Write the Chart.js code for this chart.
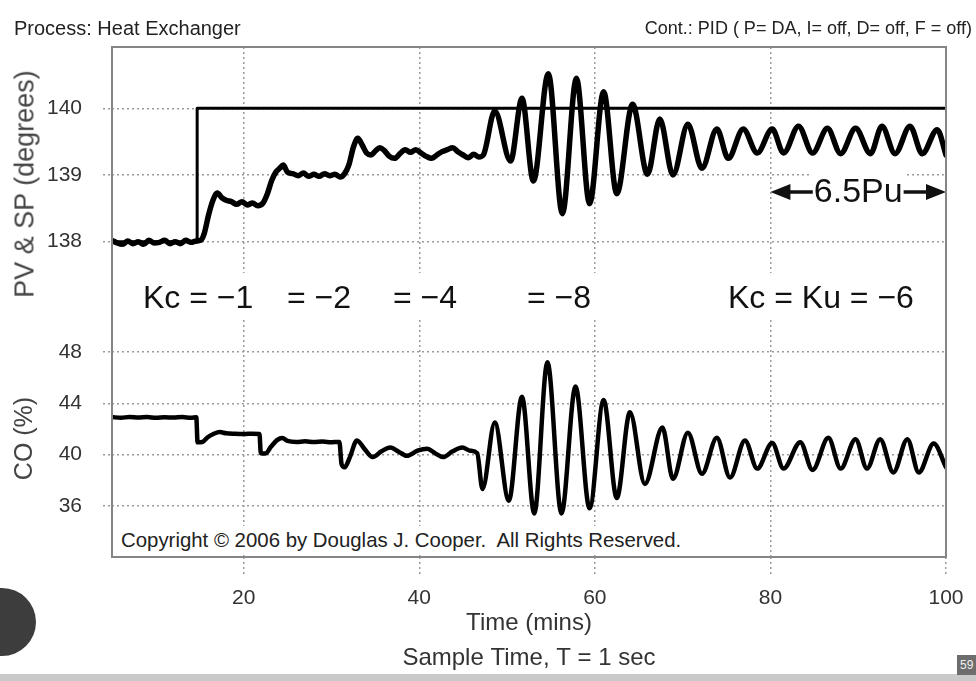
<!DOCTYPE html>
<html>
<head>
<meta charset="utf-8">
<script src="https://cdn.jsdelivr.net/npm/chart.js@4.4.0/dist/chart.umd.min.js"></script>
<style>
  html, body { margin: 0; padding: 0; background: #fff; }
  body { width: 976px; height: 681px; position: relative; overflow: hidden;
         font-family: "Liberation Sans", Arial, sans-serif; color: #222; }
  .abs { position: absolute; white-space: nowrap; }
  #topWrap { position: absolute; left: 0; top: 0; width: 976px; height: 310px; }
  #botWrap { position: absolute; left: 0; top: 270px; width: 976px; height: 411px; }
  #frame { position: absolute; left: 111px; top: 46px; width: 836px; height: 512px;
           box-sizing: border-box; border: 2px solid #858585; pointer-events: none; }
  .head { top: 17px; line-height: 22px; color: #222; }
  .kc { font-size: 32px; line-height: 36px; top: 279px; color: #111; }
  #pvTitle { left: 25px; top: 184px; font-size: 27px; color: #444;
             transform: translate(-50%, -50%) rotate(-90deg); }
  #copy { left: 116px; top: 526px; font-size: 20.4px; line-height: 28px; background: #fff;
          padding: 0 5px; color: #222; }
  #strip { left: 0; top: 674px; width: 976px; height: 7px; background: #c9c9c9; }
  #blob { left: -32px; top: 588px; width: 68px; height: 68px; border-radius: 50%; background: #3d3d3d; }
  #badge { left: 957px; top: 655px; width: 19px; height: 20px; background: #6d6d6d; color: #eee;
           font-size: 12px; line-height: 20px; padding-left: 3px; box-sizing: border-box; }
</style>
</head>
<body>
<div id="topWrap"><canvas id="pvChart"></canvas></div>
<div id="botWrap"><canvas id="coChart"></canvas></div>
<div id="frame"></div>

<div class="abs head" style="left:14px; font-size:20px">Process: Heat Exchanger</div>
<div class="abs head" style="right:4px; font-size:18px">Cont.: PID ( P= DA, I= off, D= off, F = off)</div>
<div class="abs" id="pvTitle">PV &amp; SP (degrees)</div>

<div class="abs kc" style="left:143px">Kc = −1</div>
<div class="abs kc" style="left:287px">= −2</div>
<div class="abs kc" style="left:393px">= −4</div>
<div class="abs kc" style="left:527px">= −8</div>
<div class="abs kc" style="left:728px">Kc = Ku = −6</div>

<div class="abs" id="copy">Copyright © 2006 by Douglas J. Cooper.&nbsp; All Rights Reserved.</div>
<div class="abs" id="strip"></div>
<div class="abs" id="blob"></div>
<div class="abs" id="badge">59</div>

<script>
// Axis ranges and ticks
const timeMin = 5
const timeMax = 100
const timeTicks = [20, 40, 60, 80, 100]
const pvMin = 137.53
const pvMax = 140.92
const pvTicks = [138, 139, 140]
const coMin = 32
const coMax = 50.5
const coTicks = [36, 40, 44, 48]

// Set point (degrees)
const spTime = [5, 14.7, 14.7, 100]
const spValue = [138, 138, 140, 140]

// Process variable (degrees)
const pvTime = [
    5.0, 5.6, 6.2, 6.8, 7.4, 8.0, 8.6, 9.2, 9.8, 10.4, 11.0, 11.6, 12.2, 12.8, 13.4, 14.0, 14.6, 15.1,
    15.5, 16.0, 16.5, 17.0, 17.5, 18.0, 18.6, 19.2, 19.8, 20.4, 21.0, 21.6, 22.2, 22.7, 23.2, 23.7,
    24.1, 24.5, 25.0, 25.6, 26.2, 26.8, 27.4, 28.0, 28.6, 29.2, 29.8, 30.4, 31.0, 31.5, 32.0, 32.5,
    33.0, 33.5, 34.0, 34.5, 35.0, 35.5, 36.0, 36.6, 37.2, 37.8, 38.4, 39.0, 39.6, 40.2, 40.8, 41.4,
    42.0, 42.6, 43.2, 43.8, 44.4, 45.0, 45.6, 46.2, 46.8, 47.3,
    48.6, 50.4, 51.7, 53.0, 54.7, 56.3, 57.9, 59.4, 61.0, 62.5, 64.3, 66.0, 67.4, 68.9, 70.6, 72.2,
    73.9, 75.2, 76.9, 78.5, 80.2, 81.5, 83.2, 84.8, 86.5, 88.0, 89.7, 91.4, 92.7, 94.2, 95.9, 97.3,
    99.0, 100
]
const pvValue = [
    138.02, 137.98, 137.96, 138.01, 137.97, 138.00, 137.96, 138.02, 137.98, 137.99, 138.02, 137.97, 138.00, 137.97, 138.02, 137.99, 138.01, 138.02,
    138.12, 138.40, 138.62, 138.73, 138.66, 138.62, 138.60, 138.56, 138.60, 138.55, 138.58, 138.54, 138.58, 138.72, 138.92, 139.05,
    139.10, 139.15, 139.04, 139.02, 138.99, 139.03, 138.98, 139.01, 138.98, 139.02, 138.99, 139.01, 138.97, 139.02, 139.16, 139.42,
    139.55, 139.45, 139.33, 139.30, 139.36, 139.41, 139.37, 139.28, 139.25, 139.32, 139.38, 139.34, 139.38, 139.33, 139.28, 139.25,
    139.30, 139.35, 139.38, 139.41, 139.35, 139.30, 139.26, 139.31, 139.27, 139.30,
    139.96, 139.21, 140.15, 138.91, 140.52, 138.42, 140.45, 138.57, 140.25, 138.72, 140.06, 139.01, 139.84, 139.00, 139.76, 139.10,
    139.69, 139.25, 139.69, 139.33, 139.69, 139.33, 139.73, 139.33, 139.70, 139.32, 139.70, 139.32, 139.73, 139.32, 139.73, 139.32,
    139.68, 139.30
]

// Controller output (%)
const coTime = [
    5.0, 6.0, 7.0, 8.0, 9.0, 10.0, 11.0, 12.0, 13.0, 14.0, 14.6, 14.75, 15.3, 15.9, 16.6, 17.3, 18.0,
    19.0, 20.0, 21.0, 21.8, 21.95, 22.5, 23.1, 23.8, 24.4, 25.0, 26.0, 27.0, 28.0, 29.0, 30.0, 30.9,
    31.15, 31.5, 32.1, 32.9, 33.8, 34.7, 35.7, 36.7, 37.7, 38.6, 39.8, 40.9, 41.8, 42.7, 43.8, 44.9,
    45.8, 46.6,
    47.2, 48.6, 50.2, 51.7, 53.1, 54.6, 56.2, 57.8, 59.4, 61.0, 62.5, 64.0, 65.7, 67.7, 68.9, 70.6,
    72.2, 73.9, 75.4, 77.1, 78.5, 80.2, 81.5, 83.4, 84.8, 86.6, 88.0, 89.7, 91.0, 92.5, 94.0, 95.6,
    96.9, 98.6, 100
]
const coValue = [
    42.92, 42.87, 42.93, 42.88, 42.92, 42.86, 42.91, 42.88, 42.92, 42.87, 42.90, 40.95, 40.98, 41.35, 41.62, 41.75, 41.66,
    41.62, 41.60, 41.63, 41.60, 40.10, 40.08, 40.60, 41.12, 41.28, 41.06, 40.98, 41.03, 40.97, 41.01, 40.96, 40.98,
    39.25, 39.00, 39.80, 41.10, 40.40, 39.80, 40.25, 40.55, 40.20, 39.90, 40.30, 40.45, 40.10, 39.80, 40.25, 40.55,
    40.30, 40.10,
    37.30, 42.50, 36.40, 44.50, 35.40, 47.20, 35.40, 45.30, 35.80, 44.25, 36.60, 43.30, 37.70, 42.10, 38.10, 41.70,
    38.50, 41.30, 38.20, 41.10, 38.90, 40.90, 38.90, 40.95, 38.80, 41.30, 38.90, 41.20, 38.90, 41.20, 38.60, 41.20,
    38.60, 40.85, 39.00
]

// Ultimate period annotation
const puFrom = 80
const puTo = 100
const puLevel = 138.745
const puLabel = '6.5Pu'

const xTitle = ['Time (mins)', 'Sample Time, T = 1 sec']
const coTitle = 'CO (%)'



Chart.defaults.font.family = '"Liberation Sans", Arial, sans-serif'
Chart.defaults.color = '#333'

const toPoints = (xs, ys) => xs.map((x, i) => ({ x, y: ys[i] }))
const fixTicks = values => scale => { scale.ticks = values.map(v => ({ value: v })) }

const grid = {
    color: '#9a9a9a',
    lineWidth: 1.5,
    tickColor: '#9a9a9a',
    tickWidth: 1.5,
    tickBorderDash: [2, 3],
}
const border = { display: false, dash: [2, 3] }

const lineSet = (data, width, smooth) => ({
    data,
    borderColor: '#000',
    borderWidth: width,
    pointRadius: 0,
    fill: false,
    borderJoinStyle: 'round',
    borderCapStyle: 'round',
    tension: 0,
    cubicInterpolationMode: smooth ? 'monotone' : 'default',
})

// draws the <- 6.5Pu -> arrow
const puArrow = {
    id: 'puArrow',
    afterDatasetsDraw(chart) {
        const { ctx, scales: { x, y } } = chart
        const x0 = x.getPixelForValue(puFrom)
        const x1 = x.getPixelForValue(puTo)
        const yc = y.getPixelForValue(puLevel)
        const mid = (x0 + x1) / 2

        ctx.save()
        ctx.font = '34px "Liberation Sans", Arial, sans-serif'
        const w = ctx.measureText(puLabel).width

        // clear grid behind label
        ctx.fillStyle = '#fff'
        ctx.fillRect(mid - w / 2 - 4, yc - 20, w + 8, 40)

        ctx.fillStyle = '#111'
        ctx.textAlign = 'center'
        ctx.textBaseline = 'middle'
        ctx.fillText(puLabel, mid, yc + 1)

        // shafts
        ctx.strokeStyle = '#111'
        ctx.lineWidth = 3.5
        ctx.beginPath()
        ctx.moveTo(x0 + 16, yc)
        ctx.lineTo(mid - w / 2 - 1, yc)
        ctx.moveTo(mid + w / 2 + 1, yc)
        ctx.lineTo(x1 - 16, yc)
        ctx.stroke()

        // heads
        ctx.beginPath()
        ctx.moveTo(x0, yc)
        ctx.lineTo(x0 + 20, yc - 8)
        ctx.lineTo(x0 + 20, yc + 8)
        ctx.closePath()
        ctx.moveTo(x1, yc)
        ctx.lineTo(x1 - 20, yc - 8)
        ctx.lineTo(x1 - 20, yc + 8)
        ctx.closePath()
        ctx.fill()
        ctx.restore()
    }
}

// Top panel: PV & SP
const createPvChart = () => {
    new Chart(document.getElementById('pvChart'), {
        type: 'line',
        data: {
            datasets: [
                lineSet(toPoints(spTime, spValue), 3, false),
                lineSet(toPoints(pvTime, pvValue), 5.5, true),
            ]
        },
        options: {
            responsive: true,
            maintainAspectRatio: false,
            animation: false,
            // tick padding adds ~34px below, so the canvas runs past the panel
            layout: { padding: { left: 0, right: 30, top: 47, bottom: 37 } },
            plugins: { legend: { display: false }, tooltip: { enabled: false } },
            scales: {
                x: {
                    type: 'linear', min: timeMin, max: timeMax,
                    afterBuildTicks: fixTicks(timeTicks),
                    afterFit: s => { s.height = 0 },
                    ticks: { display: false },
                    grid: { ...grid, drawTicks: false },
                    border,
                },
                y: {
                    min: pvMin, max: pvMax,
                    afterBuildTicks: fixTicks(pvTicks),
                    afterFit: s => { s.width = 112 },
                    ticks: { font: { size: 21 }, color: '#333', padding: 21 },
                    grid: { ...grid, tickLength: 9 },
                    border,
                },
            },
        },
        plugins: [puArrow],
    })
}

// Bottom panel: CO
const createCoChart = () => {
    new Chart(document.getElementById('coChart'), {
        type: 'line',
        data: {
            datasets: [lineSet(toPoints(coTime, coValue), 4.5, true)]
        },
        options: {
            responsive: true,
            maintainAspectRatio: false,
            animation: false,
            layout: { padding: { left: 0, right: 30, top: 50, bottom: 0 } },
            plugins: { legend: { display: false }, tooltip: { enabled: false } },
            scales: {
                x: {
                    type: 'linear', min: timeMin, max: timeMax,
                    afterBuildTicks: fixTicks(timeTicks),
                    afterFit: s => { s.height = 124 },
                    ticks: { font: { size: 21 }, color: '#333', padding: 11 },
                    grid: { ...grid, tickLength: 18 },
                    border,
                    title: {
                        display: true, text: xTitle, color: '#333',
                        font: { size: 24, lineHeight: 1.46 },
                        padding: { top: 0, bottom: 5 },
                    },
                },
                y: {
                    min: coMin, max: coMax,
                    afterBuildTicks: fixTicks(coTicks),
                    afterFit: s => { s.width = 112 },
                    ticks: { font: { size: 21 }, color: '#333', padding: 21 },
                    grid: { ...grid, tickLength: 9 },
                    border,
                    title: {
                        display: true, text: coTitle, color: '#444',
                        font: { size: 25 },
                        padding: { top: 10, bottom: 0 },
                    },
                },
            },
        },
    })
}



createPvChart()
createCoChart()
</script>
</body>
</html>
